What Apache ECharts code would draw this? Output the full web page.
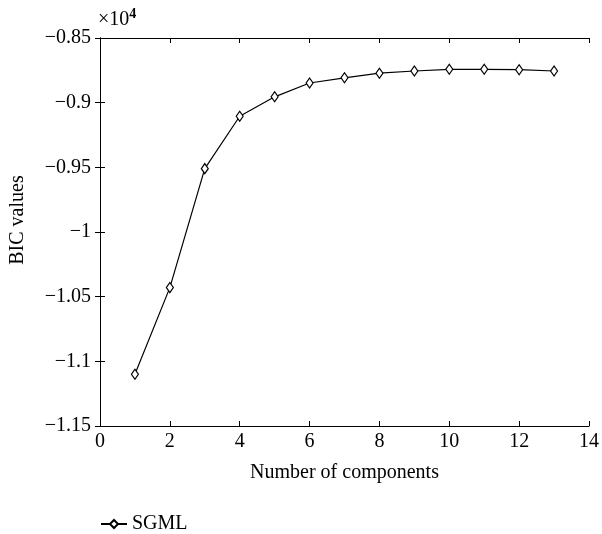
<!DOCTYPE html>
<html>
<head>
<meta charset="utf-8">
<script src="https://cdn.jsdelivr.net/npm/echarts@6/dist/echarts.min.js"></script>
<style>
  html, body { margin: 0; padding: 0; background: #fff; }
  #chart { width: 602px; height: 534px; }
</style>
</head>
<body>
<div id="chart"></div>
<script>
const components = [1, 2, 3, 4, 5, 6, 7, 8, 9, 10, 11, 12, 13]
const bicValues = [-11100, -10430, -9510, -9105, -8955, -8848, -8808, -8772, -8755, -8742, -8742, -8745, -8755]
const seriesName = 'SGML'

const FONT = '"Liberation Serif", "DejaVu Serif", serif'
const INK = '#000'
const FS = 20

function fmtY(v) {
  const s = String(parseFloat((v / 10000).toFixed(2)))
  return s.replace('-', '\u2212')
}

const chart = echarts.init(document.getElementById('chart'))

const baseAxis = {
  type: 'value',
  axisLine: { show: true, lineStyle: { color: INK, width: 1 } },
  axisTick: { show: true, inside: true, length: 5, lineStyle: { color: INK } },
  splitLine: { show: false }
}

chart.setOption({
  animation: false,
  backgroundColor: '#fff',
  textStyle: { fontFamily: FONT, color: INK },
  grid: { left: 100, right: 10, top: 38, bottom: 108 },
  title: {
    text: '{a|\u00d710}{b|4}',
    left: 93,
    top: 2,
    textStyle: {
      rich: {
        a: { fontFamily: FONT, fontSize: FS, color: INK, fontWeight: 'normal' },
        b: { fontFamily: FONT, fontSize: 14, color: INK, verticalAlign: 'top', padding: [0, 0, 12, 0] }
      }
    }
  },
  legend: {
    left: 95,
    top: 509,
    itemWidth: 26,
    itemHeight: 10,
    itemGap: 6,
    textStyle: { fontFamily: FONT, fontSize: FS, color: INK },
    data: [seriesName]
  },
  xAxis: [
    Object.assign({}, baseAxis, {
      min: 0, max: 14, interval: 2,
      name: 'Number of components',
      nameLocation: 'middle',
      nameGap: 37,
      nameTextStyle: { fontFamily: FONT, fontSize: FS, color: INK },
      axisLabel: { color: INK, fontFamily: FONT, fontSize: FS, margin: 6 }
    }),
    Object.assign({}, baseAxis, {
      position: 'top',
      min: 0, max: 14, interval: 2,
      axisLabel: { show: false }
    })
  ],
  yAxis: [
    Object.assign({}, baseAxis, {
      min: -11500, max: -8500, interval: 500,
      name: 'BIC values',
      nameLocation: 'middle',
      nameGap: 72,
      nameTextStyle: { fontFamily: FONT, fontSize: FS, color: INK, padding: [0, 0, 0, 24] },
      axisLabel: { color: INK, fontFamily: FONT, fontSize: FS, margin: 9, formatter: fmtY }
    }),
    Object.assign({}, baseAxis, {
      position: 'right',
      min: -11500, max: -8500, interval: 500,
      axisLabel: { show: false }
    })
  ],
  series: [
    {
      name: seriesName,
      type: 'line',
      data: components.map((c, i) => [c, bicValues[i]]),
      symbol: 'diamond',
      symbolSize: [7, 10],
      showAllSymbol: true,
      lineStyle: { color: INK, width: 1.2 },
      itemStyle: { color: '#fff', borderColor: INK, borderWidth: 1.2 }
    }
  ]
})
</script>
</body>
</html>
